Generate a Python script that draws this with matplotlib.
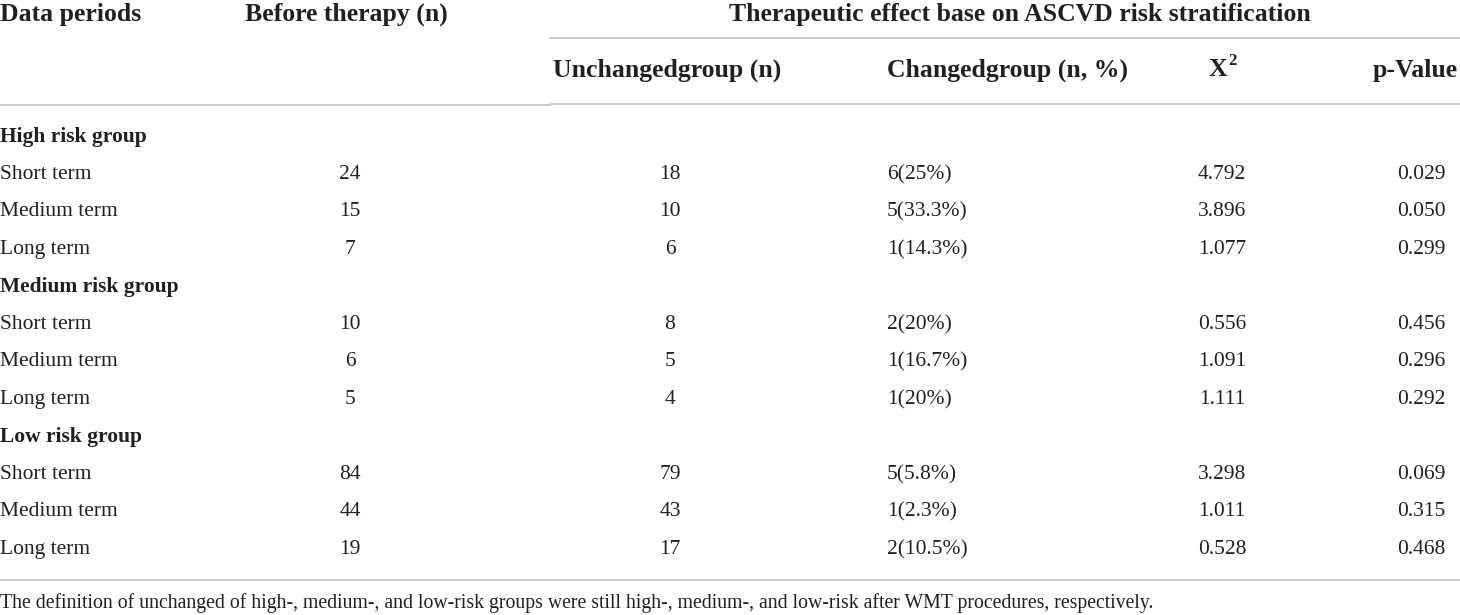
import matplotlib.pyplot as plt

W, H = 1460, 615

groups = ["High risk group", "Medium risk group", "Low risk group"]
periods = ["Short term", "Medium term", "Long term"]
before = [24, 15, 7, 10, 6, 5, 84, 44, 19]
unchanged = [18, 10, 6, 8, 5, 4, 79, 43, 17]
changed = ["6(25%)", "5(33.3%)", "1(14.3%)",
           "2(20%)", "1(16.7%)", "1(20%)",
           "5(5.8%)", "1(2.3%)", "2(10.5%)"]
chi2 = ["4.792", "3.896", "1.077", "0.556", "1.091", "1.111",
        "3.298", "1.011", "0.528"]
pvals = ["0.029", "0.050", "0.299", "0.456", "0.296", "0.292",
         "0.069", "0.315", "0.468"]
footnote = ("The definition of unchanged of high-, medium-, and low-risk groups "
            "were still high-, medium-, and low-risk after WMT procedures, respectively.")

plt.rcParams["font.family"] = ["Liberation Serif", "DejaVu Serif"]
fig = plt.figure(figsize=(W / 100, H / 100), dpi=100)
ax = fig.add_axes([0, 0, 1, 1])
ax.set_xlim(0, W)
ax.set_ylim(H, 0)
ax.axis("off")

TXT = "#231f20"
LINE = "#c8c8c8"
hdr = dict(fontsize=18.5, fontweight="bold", color=TXT, va="center")
body = dict(fontsize=15.5, color=TXT, va="center")

# header
ax.text(0, 14, "Data periods", ha="left", **hdr)
ax.text(245, 14, "Before therapy (n)", ha="left", **hdr)
ax.text(1020, 14, "Therapeutic effect base on ASCVD risk stratification", ha="center", **hdr)
ax.text(553, 70, "Unchangedgroup (n)", ha="left", **hdr)
ax.text(887, 70, "Changedgroup (n, %)", ha="left", **hdr)
ax.text(1227, 70, "X", ha="right", **hdr)
ax.text(1228, 61, "2", ha="left", fontsize=12, fontweight="bold", color=TXT, va="center")
ax.text(1458, 70, "p-Value", ha="right", **hdr)

ax.plot([550, W], [38, 38], color=LINE, lw=1.3)
ax.plot([0, 550], [105, 105], color=LINE, lw=1.3)
ax.plot([550, W], [104, 104], color=LINE, lw=1.3)

# rows
y = 137
step = 37.5
for g, name in enumerate(groups):
    ax.text(0, y, name, ha="left", fontsize=15.5, fontweight="bold", color=TXT, va="center")
    y += step
    for p, period in enumerate(periods):
        i = g * 3 + p
        ax.text(0, y, period, ha="left", **body)
        ax.text(350, y, str(before[i]), ha="center", **body)
        ax.text(670, y, str(unchanged[i]), ha="center", **body)
        ax.text(887, y, changed[i], ha="left", **body)
        ax.text(1222, y, chi2[i], ha="center", **body)
        ax.text(1421, y, pvals[i], ha="center", **body)
        y += step

ax.plot([0, W], [580, 580], color=LINE, lw=1.3)
ax.text(0, 603, footnote, ha="left", fontsize=14.2, color=TXT, va="center")

fig.savefig("out.png", dpi=100)
